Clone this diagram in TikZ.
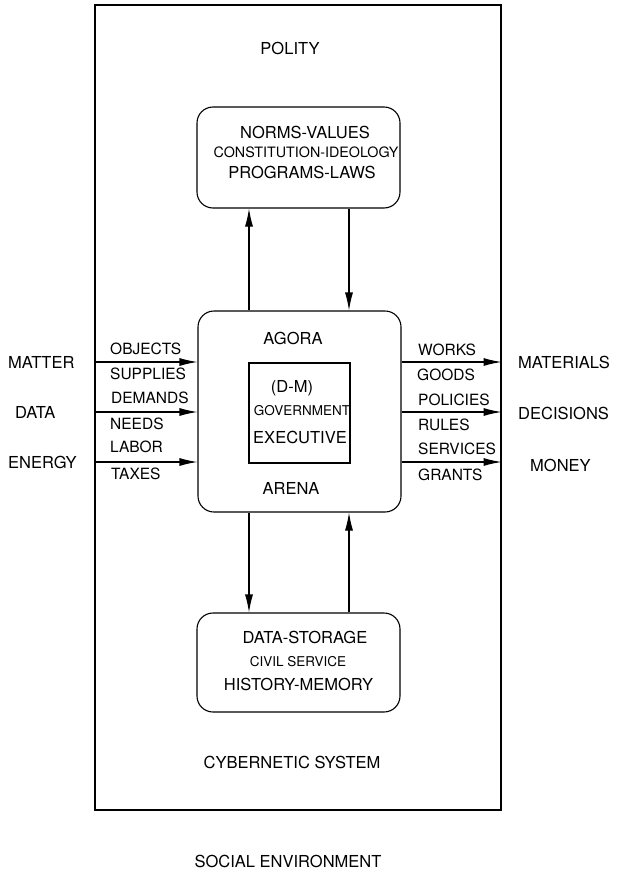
\documentclass[tikz,border=0pt]{standalone}
\usepackage{fontspec}
\setmainfont{TeX Gyre Heros}
\usetikzlibrary{arrows.meta}
\begin{document}
\begin{tikzpicture}[x=1pt,y=-1pt,
  box/.style={draw, line width=1.1pt, inner sep=0pt},
  rbox/.style={box, rounded corners=16pt},
  big/.style={font=\fontsize{16.5}{18}\selectfont, inner sep=0pt},
  lab/.style={font=\fontsize{15.5}{17}\selectfont, inner sep=0pt, anchor=west},
  small/.style={font=\fontsize{13.5}{15}\selectfont, inner sep=0pt},
  arr/.style={line width=1.1pt, -{Latex[length=18pt,width=8pt]}}]
\useasboundingbox (0,0) rectangle (617,870);
% boxes
\node[box, minimum width=406pt, minimum height=805pt] (outer) at (298,407.5) {};
\node[rbox, minimum width=203pt, minimum height=101pt] (norms) at (298.5,157.5) {};
\node[rbox, minimum width=203pt, minimum height=201pt] (agora) at (299.5,411.5) {};
\node[box, minimum width=101pt, minimum height=100pt] (gov) at (299.5,413) {};
\node[rbox, minimum width=203pt, minimum height=99pt] (store) at (298.5,662.5) {};
% titles
\node[big] (polity) at (290,48) {POLITY};
\node[big] (cyber) at (292,762) {CYBERNETIC SYSTEM};
\node[big] (social) at (288,861) {SOCIAL ENVIRONMENT};
% top box text
\node[big] (t1) at (305,132) {NORMS-VALUES};
\node[small, font=\fontsize{14.3}{16}\selectfont] (t2) at (306,152) {CONSTITUTION-IDEOLOGY};
\node[big] (t3) at (302,172) {PROGRAMS-LAWS};
% bottom box text
\node[big] (b1) at (305,637) {DATA-STORAGE};
\node[small] (b2) at (298,662) {CIVIL SERVICE};
\node[big] (b3) at (298.5,684) {HISTORY-MEMORY};
% centre box text
\node[big] (ag) at (293,338) {AGORA};
\node[big] (ar) at (291,488) {ARENA};
\node[big] (dm) at (292,388) {(D-M)};
\node[small] (gv) at (302,411) {GOVERNMENT};
\node[big] (ex) at (300,437) {EXECUTIVE};
% left labels
\node[big, anchor=west] (matter) at (8,362) {MATTER};
\node[big, anchor=west] (data) at (15,412) {DATA};
\node[big, anchor=west] (energy) at (8,462) {ENERGY};
\node[lab] (l1) at (110,349) {OBJECTS};
\node[lab] (l2) at (110,374) {SUPPLIES};
\node[lab] (l3) at (111,398) {DEMANDS};
\node[lab] (l4) at (110,424) {NEEDS};
\node[lab] (l5) at (110,447) {LABOR};
\node[lab] (l6) at (111,474) {TAXES};
% right labels
\node[big, anchor=west] (materials) at (518,362) {MATERIALS};
\node[big, anchor=west] (decisions) at (518,413) {DECISIONS};
\node[big, anchor=west] (money) at (530,465) {MONEY};
\node[lab] (r1) at (418,350) {WORKS};
\node[lab] (r2) at (417,375) {GOODS};
\node[lab] (r3) at (418,400) {POLICIES};
\node[lab] (r4) at (418,425) {RULES};
\node[lab] (r5) at (418,449) {SERVICES};
\node[lab] (r6) at (418,475) {GRANTS};
% arrow levels
\coordinate (y1) at (0,362);
\coordinate (y2) at (0,412);
\coordinate (y3) at (0,462);
\coordinate (xl) at (249,0);
\coordinate (xr) at (349,0);
% inputs
\draw[arr] (outer.west |- y1) -- (agora.west |- y1);
\draw[arr] (outer.west |- y2) -- (agora.west |- y2);
\draw[arr] (outer.west |- y3) -- (agora.west |- y3);
% outputs
\draw[arr] (agora.east |- y1) -- (outer.east |- y1);
\draw[arr] (agora.east |- y2) -- (outer.east |- y2);
\draw[arr] (agora.east |- y3) -- (outer.east |- y3);
% vertical flows
\draw[arr] (agora.north -| xl) -- (norms.south -| xl);
\draw[arr] (norms.south -| xr) -- (agora.north -| xr);
\draw[arr] (agora.south -| xl) -- (store.north -| xl);
\draw[arr] (store.north -| xr) -- (agora.south -| xr);
\end{tikzpicture}
\end{document}
